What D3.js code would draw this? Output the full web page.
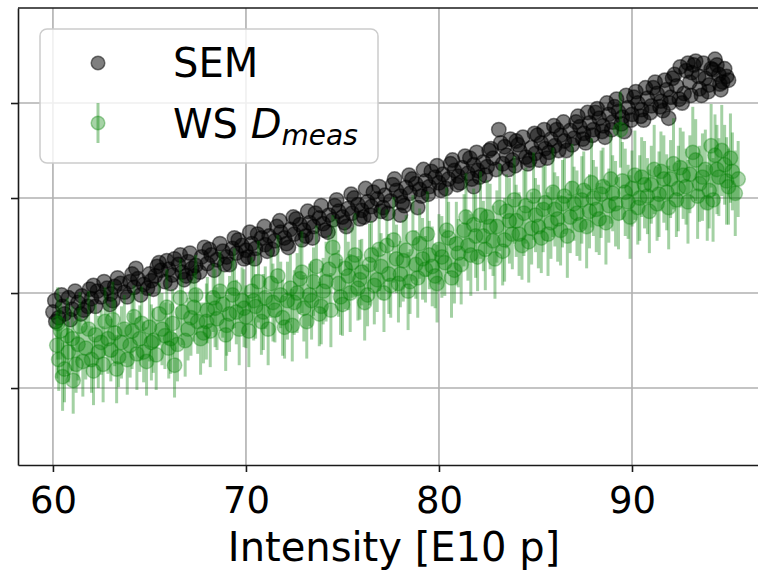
<!DOCTYPE html>
<html><head><meta charset="utf-8">
<script src="https://cdn.jsdelivr.net/npm/d3@7"></script>
<style>body{margin:0;background:#fff}svg{display:block;font-family:"DejaVu Sans",sans-serif}</style>
</head><body>
<svg id="c" width="758" height="571"></svg>
<script>
const xTicks = [60, 70, 80, 90];
const yTicks = [1, 2, 3, 4];
const xLabel = "Intensity [E10 p]";
const seriesNames = ["SEM", "WS"];

// SEM: [intensity, value]
const semData = [
[60.0,1.80],[60.1,1.92],[60.3,1.74],[60.5,1.86],[60.6,1.78],[60.8,1.95],[61.0,1.83],[61.3,1.90],[61.5,1.97],[61.6,1.82],
[61.8,1.86],[62.0,1.94],[62.1,2.08],[62.3,2.02],[62.5,1.96],[62.8,2.05],[63.0,1.99],[63.1,1.92],[63.2,2.07],[63.5,2.10],
[63.7,2.01],[64.0,2.12],[64.1,2.20],[64.2,2.06],[64.4,2.15],[64.7,2.09],[64.9,2.05],[65.0,2.20],[65.1,2.13],[65.3,2.18],
[65.4,2.28],[65.6,2.24],[65.8,2.12],[66.0,2.25],[66.2,2.19],[66.3,2.36],[66.5,2.30],[66.7,2.22],[66.9,2.18],[67.0,2.33],
[67.2,2.26],[67.4,2.29],[67.6,2.22],[67.7,2.38],[68.0,2.31],[68.1,2.46],[68.2,2.40],[68.5,2.35],[68.8,2.44],[68.9,2.30],
[69.0,2.38],[69.3,2.47],[69.5,2.42],[69.6,2.56],[69.8,2.50],[70.0,2.45],[70.1,2.38],[70.3,2.52],[70.5,2.47],[70.6,2.62],
[70.8,2.58],[71.0,2.51],[71.1,2.44],[71.2,2.60],[71.5,2.55],[71.6,2.70],[71.8,2.64],[72.0,2.58],[72.1,2.52],[72.3,2.67],
[72.5,2.62],[72.6,2.78],[72.8,2.72],[73.0,2.66],[73.1,2.60],[73.3,2.74],[73.5,2.70],[73.6,2.84],[73.8,2.79],[74.0,2.73],
[74.1,2.66],[74.3,2.82],[74.5,2.77],[74.6,2.92],[74.8,2.86],[75.0,2.80],[75.1,2.74],[75.3,2.89],[75.5,2.84],[75.6,3.00],
[75.8,2.93],[76.0,2.87],[76.1,2.80],[76.3,2.96],[76.5,2.91],[76.6,3.06],[76.8,2.99],[77.0,2.86],[77.1,2.90],[77.2,3.03],
[77.5,2.97],[77.6,3.14],[77.8,3.08],[78.0,3.02],[78.1,2.95],[78.3,3.11],[78.5,3.05],[78.6,3.20],[78.8,3.15],[79.0,3.09],
[79.1,3.02],[79.3,3.18],[79.5,3.12],[79.6,3.28],[79.8,3.22],[80.0,3.16],[80.1,3.08],[80.2,3.25],[80.5,3.20],[80.6,3.36],
[80.8,3.29],[81.0,3.23],[81.1,3.16],[81.2,3.32],[81.5,3.26],[81.6,3.42],[81.8,3.35],[82.0,3.29],[82.1,3.22],[82.3,3.38],
[82.5,3.33],[82.6,3.50],[82.8,3.42],[83.1,3.72],[83.2,3.58],[83.3,3.36],[83.5,3.45],[83.6,3.30],[83.8,3.40],[84.0,3.60],
[84.1,3.56],[84.2,3.49],[84.5,3.43],[84.6,3.36],[84.8,3.53],[85.0,3.47],[85.1,3.66],[85.3,3.58],[85.5,3.52],[85.6,3.42],
[85.8,3.62],[86.0,3.55],[86.1,3.72],[86.3,3.66],[86.5,3.60],[86.6,3.50],[86.8,3.71],[87.0,3.63],[87.1,3.80],[87.3,3.75],
[87.5,3.68],[87.6,3.58],[87.8,3.79],[88.0,3.72],[88.1,3.90],[88.3,3.84],[88.5,3.76],[88.6,3.64],[88.8,3.88],[89.0,3.80],
[89.1,3.96],[89.3,3.91],[89.5,3.85],[89.6,3.70],[89.8,3.95],[90.0,3.88],[90.1,4.06],[90.3,4.00],[90.5,3.93],[90.6,3.82],
[90.8,4.05],[91.0,3.97],[91.1,4.16],[91.3,4.10],[91.5,4.02],[91.6,3.92],[91.8,4.14],[91.9,3.84],[92.0,4.06],[92.1,4.26],
[92.3,4.18],[92.5,4.38],[92.6,4.00],[92.7,4.10],[92.9,4.42],[93.0,4.22],[93.1,4.32],[93.2,4.40],[93.5,4.15],[93.6,4.08],
[93.8,4.26],[94.0,4.19],[94.1,4.36],[94.2,4.35],[94.4,4.40],[94.5,4.30],[94.6,4.14],[94.7,4.22],[94.9,4.28],
[60.15,1.70],[60.45,1.98],[60.9,1.72],[61.15,2.02],[61.45,1.78],[61.9,2.04],[62.2,1.86],[62.65,2.12],[62.95,1.88],[63.35,2.16],
[63.85,1.96],[64.3,2.26],[64.55,1.98],[65.2,2.04],[65.5,2.32],[65.9,2.34],[66.1,2.10],[66.6,2.40],[66.8,2.14],[67.1,2.42],
[67.3,2.18],[67.85,2.48],[68.35,2.24],[68.65,2.52],[69.15,2.30],[69.4,2.58],[69.9,2.36],[70.2,2.64],[70.45,2.36],[70.95,2.70],
[71.35,2.46],[71.75,2.76],[72.2,2.48],[72.45,2.80],[72.9,2.56],[73.2,2.86],[73.45,2.58],[73.9,2.92],[74.25,2.64],[74.7,2.98],
[75.2,2.70],[75.45,3.04],[75.9,2.78],[76.2,3.10],[76.45,2.82],[76.9,3.12],[77.35,2.84],[77.7,3.20],[78.0,2.82],[78.2,2.92],
[78.45,3.24],[78.9,2.90],[79.2,3.30],[79.45,3.04],[79.9,3.34],[80.35,3.10],[80.7,3.40],[80.95,3.14],[81.35,3.44],[81.7,3.20],
[81.8,3.12],[81.95,3.48],[82.4,3.24],[82.7,3.52],[82.95,3.30],[83.4,3.54],[83.7,3.62],[83.95,3.34],[84.35,3.64],[84.7,3.40],
[84.95,3.68],[85.2,3.40],[85.45,3.72],[85.7,3.48],[85.95,3.76],[86.2,3.50],[86.45,3.80],[86.9,3.56],[87.2,3.86],[87.45,3.62],
[87.7,3.90],[87.95,3.66],[88.2,3.94],[88.45,3.70],[88.7,4.00],[88.95,3.72],[89.2,4.04],[89.45,3.78],[89.7,4.08],[89.95,3.82],
[90.2,4.12],[90.45,3.86],[90.7,4.16],[90.95,3.90],[91.2,4.22],[91.45,3.96],[91.7,4.24],[91.95,4.00],[92.2,4.30],[92.45,4.04],
[92.8,4.34],[93.05,4.08],[93.3,4.44],[93.45,4.28],[93.7,4.42],[93.95,4.12],[94.3,4.46],[94.55,4.20],[94.8,4.36],[95.0,4.24]
];

// WS D_meas: [intensity, value, error]
const wsData = [
[60.2,1.45,0.35],[60.3,1.30,0.33],[60.4,1.60,0.30],[60.6,1.20,0.35],[60.8,1.38,0.32],[61.0,1.52,0.34],[61.2,1.25,0.30],
[61.4,1.65,0.36],[61.7,1.42,0.33],[62.0,1.30,0.35],[62.2,1.56,0.32],[62.5,1.48,0.34],[62.7,1.70,0.36],[63.0,1.40,0.33],
[63.2,1.58,0.35],[63.4,1.33,0.32],[63.7,1.62,0.36],[64.0,1.45,0.34],[64.2,1.75,0.33],[64.5,1.52,0.35],[64.7,1.38,0.32],
[65.0,1.64,0.36],[65.2,1.50,0.34],[65.5,1.78,0.33],[65.8,1.55,0.35],[66.0,1.42,0.32],[66.2,1.68,0.36],[66.3,1.24,0.34],
[66.7,1.80,0.35],[67.0,1.62,0.33],[67.3,1.85,0.36],[67.5,1.70,0.34],[67.8,1.58,0.32],[68.0,1.82,0.35],[68.3,1.95,0.36],
[68.5,1.73,0.33],[68.8,1.88,0.35],[69.0,1.66,0.32],[69.3,1.98,0.36],[69.5,1.80,0.34],[69.8,1.92,0.35],[70.0,1.75,0.33],
[70.3,2.02,0.36],[70.5,1.86,0.34],[70.8,1.70,0.35],[71.0,1.95,0.33],[71.3,2.10,0.36],[71.5,1.82,0.34],[71.8,1.98,0.35],
[72.0,1.64,0.33],[72.3,2.05,0.36],[72.5,1.90,0.34],[72.8,2.15,0.37],[73.0,1.84,0.35],[73.3,1.98,0.33],[73.5,2.12,0.36],
[73.8,1.78,0.34],[74.0,2.02,0.35],[74.3,2.25,0.36],[74.5,2.48,0.34],[74.8,2.10,0.35],[75.0,1.88,0.33],[75.3,2.18,0.36],
[75.5,2.32,0.37],[75.8,2.05,0.34],[76.0,2.22,0.35],[76.3,1.98,0.33],[76.5,2.40,0.36],[76.8,2.14,0.34],[77.0,2.28,0.35],
[77.3,2.50,0.38],[77.5,2.08,0.34],[77.8,2.36,0.36],[78.0,2.20,0.35],[78.3,2.45,0.37],[78.5,2.12,0.34],[78.8,2.30,0.36],
[79.0,2.52,0.37],[79.3,2.25,0.35],[79.5,2.40,0.36],[79.8,2.18,0.34],[80.0,2.46,0.37],[80.3,2.32,0.35],[80.5,2.58,0.38],
[80.8,2.24,0.35],[81.0,2.42,0.36],[81.3,2.66,0.38],[81.5,2.50,0.37],[81.8,2.72,0.38],[82.0,2.38,0.36],[82.3,2.60,0.37],
[82.5,2.80,0.39],[82.8,2.55,0.37],[83.0,2.70,0.38],[83.3,2.44,0.36],[83.5,2.86,0.39],[83.8,2.62,0.37],[84.0,2.76,0.38],
[84.3,2.50,0.36],[84.5,2.92,0.40],[84.8,2.68,0.38],[85.0,2.82,0.39],[85.3,2.58,0.37],[85.5,2.95,0.40],[85.8,2.74,0.38],
[86.0,2.88,0.39],[86.3,2.66,0.37],[86.5,3.02,0.40],[86.8,2.80,0.38],[87.0,2.94,0.39],[87.3,2.72,0.38],[87.5,3.08,0.41],
[87.8,2.86,0.39],[88.0,3.00,0.40],[88.3,2.78,0.38],[88.5,3.12,0.41],[88.8,2.92,0.39],[89.0,3.05,0.40],[89.3,2.84,0.38],
[89.4,3.72,0.40],[89.5,3.18,0.41],[89.8,2.96,0.39],[90.0,3.10,0.40],[90.3,2.90,0.39],[90.5,3.22,0.42],[90.8,3.02,0.40],
[91.0,3.14,0.41],[91.3,2.94,0.39],[91.5,3.28,0.42],[91.8,3.06,0.40],[92.0,3.20,0.41],[92.3,2.98,0.39],[92.5,3.32,0.42],
[92.8,3.12,0.40],[93.0,3.25,0.41],[93.3,3.40,0.43],[93.5,3.15,0.40],[93.8,3.30,0.42],[93.9,2.95,0.40],[94.0,3.08,0.40],
[94.1,3.55,0.44],[94.3,3.45,0.43],[94.5,3.22,0.41],[94.8,3.35,0.42],[95.0,3.12,0.40],[95.2,3.28,0.41],[95.5,3.20,0.40],
[60.25,1.68,0.38],[60.5,1.12,0.36],[60.75,1.55,0.40],[61.05,1.08,0.35],[61.3,1.46,0.38],[61.55,1.28,0.37],[61.85,1.62,0.40],
[62.1,1.18,0.36],[62.35,1.38,0.38],[62.6,1.25,0.40],[62.85,1.52,0.37],[63.1,1.72,0.40],[63.3,1.20,0.36],[63.55,1.48,0.38],
[63.85,1.30,0.37],[64.1,1.60,0.40],[64.35,1.36,0.38],[64.6,1.68,0.39],[64.85,1.28,0.36],[65.1,1.48,0.40],[65.35,1.35,0.37],
[65.65,1.62,0.38],[65.9,1.85,0.40],[66.1,1.52,0.37],[66.45,1.46,0.39],[66.6,1.95,0.41],[66.85,1.50,0.38],[67.15,1.74,0.40],
[67.4,1.98,0.42],[67.65,1.52,0.38],[67.95,1.70,0.40],[68.15,1.60,0.38],[68.4,1.84,0.41],[68.65,2.02,0.42],[68.95,1.56,0.38],
[69.15,1.78,0.40],[69.4,2.05,0.42],[69.65,1.62,0.38],[69.9,1.84,0.41],[70.15,1.60,0.38],[70.4,1.92,0.42],[70.65,2.12,0.43],
[70.9,1.80,0.40],[71.15,1.62,0.38],[71.4,1.90,0.41],[71.65,2.18,0.43],[71.9,1.74,0.40],[72.15,1.92,0.41],[72.4,1.66,0.38],
[72.65,2.00,0.42],[72.9,2.22,0.43],[73.15,1.70,0.39],[73.4,1.92,0.41],[73.65,2.28,0.43],[73.9,1.86,0.40],[74.15,2.12,0.42],
[74.4,1.82,0.39],[74.65,2.34,0.44],[74.9,1.96,0.40],[75.15,2.26,0.43],[75.4,2.00,0.41],[75.65,2.40,0.44],[75.9,2.14,0.42],
[76.15,1.90,0.40],[76.4,2.30,0.43],[76.65,2.08,0.41],[76.9,2.46,0.44],[77.15,2.00,0.41],[77.4,2.20,0.42],[77.65,2.56,0.45],
[77.9,2.10,0.41],[78.15,2.34,0.43],[78.4,2.02,0.41],[78.65,2.58,0.45],[78.9,2.16,0.42],[79.15,2.36,0.43],[79.4,2.62,0.45],
[79.65,2.28,0.42],[79.9,2.10,0.41],[80.15,2.38,0.43],[80.4,2.66,0.45],[80.65,2.16,0.42],[80.9,2.52,0.44],[81.15,2.30,0.42],
[81.4,2.80,0.46],[81.65,2.40,0.43],[81.9,2.60,0.44],[82.15,2.82,0.46],[82.4,2.46,0.43],[82.65,2.70,0.45],[82.9,2.36,0.42],
[83.15,2.90,0.46],[83.4,2.56,0.44],[83.65,2.76,0.45],[83.9,2.98,0.46],[84.15,2.62,0.44],[84.4,2.84,0.45],[84.65,2.54,0.43],
[84.9,3.02,0.46],[85.15,2.70,0.44],[85.4,2.88,0.45],[85.65,2.62,0.44],[85.9,3.06,0.47],[86.15,2.78,0.45],[86.4,2.94,0.46],
[86.65,2.60,0.44],[86.9,3.10,0.47],[87.15,2.84,0.45],[87.4,2.98,0.46],[87.65,2.70,0.44],[87.9,3.16,0.47],[88.15,2.88,0.45],
[88.4,3.04,0.46],[88.65,2.74,0.44],[88.9,3.20,0.47],[89.15,2.94,0.45],[89.65,3.06,0.46],[89.9,2.80,0.44],[90.15,3.24,0.47],
[90.4,3.00,0.45],[90.65,3.14,0.46],[90.9,2.86,0.44],[91.15,3.30,0.47],[91.4,3.04,0.45],[91.65,3.20,0.46],[91.9,2.90,0.44],
[92.15,3.36,0.48],[92.4,3.10,0.45],[92.65,3.24,0.46],[92.9,2.96,0.44],[93.15,3.48,0.48],[93.4,3.02,0.45],[93.65,3.22,0.46],
[94.2,2.98,0.44],[94.4,3.30,0.47],[94.65,3.50,0.48],[94.9,3.18,0.46],[95.1,3.42,0.47],[95.35,3.05,0.45]
];

const mLeft = 18, mRight = 770, mTop = 8, mBottom = 465;
const svg = d3.select("#c");
const x = d3.scaleLinear().domain([58.19, 97.15]).range([mLeft, mRight]);
const y = d3.scaleLinear().domain([0.19, 5.0]).range([mBottom, mTop]);
const R = 7.2;

// grid
const grid = svg.append("g").attr("stroke", "#b0b0b0").attr("stroke-width", 1.6);
grid.selectAll("line.v").data(xTicks).join("line").attr("class", "v")
  .attr("x1", d => x(d)).attr("x2", d => x(d)).attr("y1", mTop).attr("y2", mBottom);
grid.selectAll("line.h").data(yTicks).join("line").attr("class", "h")
  .attr("x1", mLeft).attr("x2", mRight).attr("y1", d => y(d)).attr("y2", d => y(d));

// SEM
svg.append("g").selectAll("circle").data(semData).join("circle")
  .attr("cx", d => x(d[0])).attr("cy", d => y(d[1])).attr("r", R)
  .attr("fill", "#000").attr("fill-opacity", 0.5)
  .attr("stroke", "#000").attr("stroke-opacity", 0.5).attr("stroke-width", 1.5);

// WS error bars
svg.append("g").selectAll("line").data(wsData).join("line")
  .attr("x1", d => x(d[0])).attr("x2", d => x(d[0]))
  .attr("y1", d => y(d[1] - d[2])).attr("y2", d => y(d[1] + d[2]))
  .attr("stroke", "#008000").attr("stroke-opacity", 0.36).attr("stroke-width", 3);
svg.append("g").selectAll("circle").data(wsData).join("circle")
  .attr("cx", d => x(d[0])).attr("cy", d => y(d[1])).attr("r", R)
  .attr("fill", "#008000").attr("fill-opacity", 0.32)
  .attr("stroke", "#008000").attr("stroke-opacity", 0.32).attr("stroke-width", 1.5);

// axes
const ax = svg.append("g").attr("transform", `translate(0,${mBottom})`)
  .call(d3.axisBottom(x).tickValues(xTicks).tickSize(7).tickSizeOuter(0).tickPadding(15));
ax.selectAll("text").attr("font-size", 37).attr("font-family", "DejaVu Sans").attr("fill", "#000");
const ay = svg.append("g").attr("transform", `translate(${mLeft},0)`)
  .call(d3.axisLeft(y).tickValues(yTicks).tickFormat(() => "").tickSize(7).tickSizeOuter(0));
svg.selectAll(".domain").attr("stroke", "#1a1a1a").attr("stroke-width", 1.6);
svg.selectAll(".tick line").attr("stroke", "#1a1a1a").attr("stroke-width", 1.6);
svg.append("line").attr("x1", mLeft).attr("x2", mRight).attr("y1", mTop).attr("y2", mTop)
  .attr("stroke", "#1a1a1a").attr("stroke-width", 1.6);

svg.append("text").attr("x", (mLeft + mRight) / 2).attr("y", 561).attr("text-anchor", "middle")
  .attr("font-size", 40).attr("fill", "#000").text(xLabel);

// legend
const lg = svg.append("g");
lg.append("rect").attr("x", 40).attr("y", 29).attr("width", 338).attr("height", 134).attr("rx", 7)
  .attr("fill", "#fff").attr("fill-opacity", 0.8).attr("stroke", "#cccccc").attr("stroke-width", 1.5);
lg.append("circle").attr("cx", 98).attr("cy", 63).attr("r", 6.8)
  .attr("fill", "#000").attr("fill-opacity", 0.5).attr("stroke", "#000").attr("stroke-opacity", 0.5).attr("stroke-width", 1.5);
lg.append("text").attr("x", 173).attr("y", 77).attr("font-size", 40).attr("fill", "#000").text(seriesNames[0]);
lg.append("line").attr("x1", 98).attr("x2", 98).attr("y1", 103).attr("y2", 143)
  .attr("stroke", "#008000").attr("stroke-opacity", 0.38).attr("stroke-width", 3);
lg.append("circle").attr("cx", 98).attr("cy", 123).attr("r", 6.8)
  .attr("fill", "#008000").attr("fill-opacity", 0.35).attr("stroke", "#008000").attr("stroke-opacity", 0.35).attr("stroke-width", 1.5);
const t2 = lg.append("text").attr("x", 173).attr("y", 138).attr("font-size", 40).attr("fill", "#000");
t2.append("tspan").text(seriesNames[1] + " ");
t2.append("tspan").attr("font-style", "italic").text("D");
t2.append("tspan").attr("font-style", "italic").attr("font-size", 28).attr("dy", 7).text("meas");
</script>
</body></html>
